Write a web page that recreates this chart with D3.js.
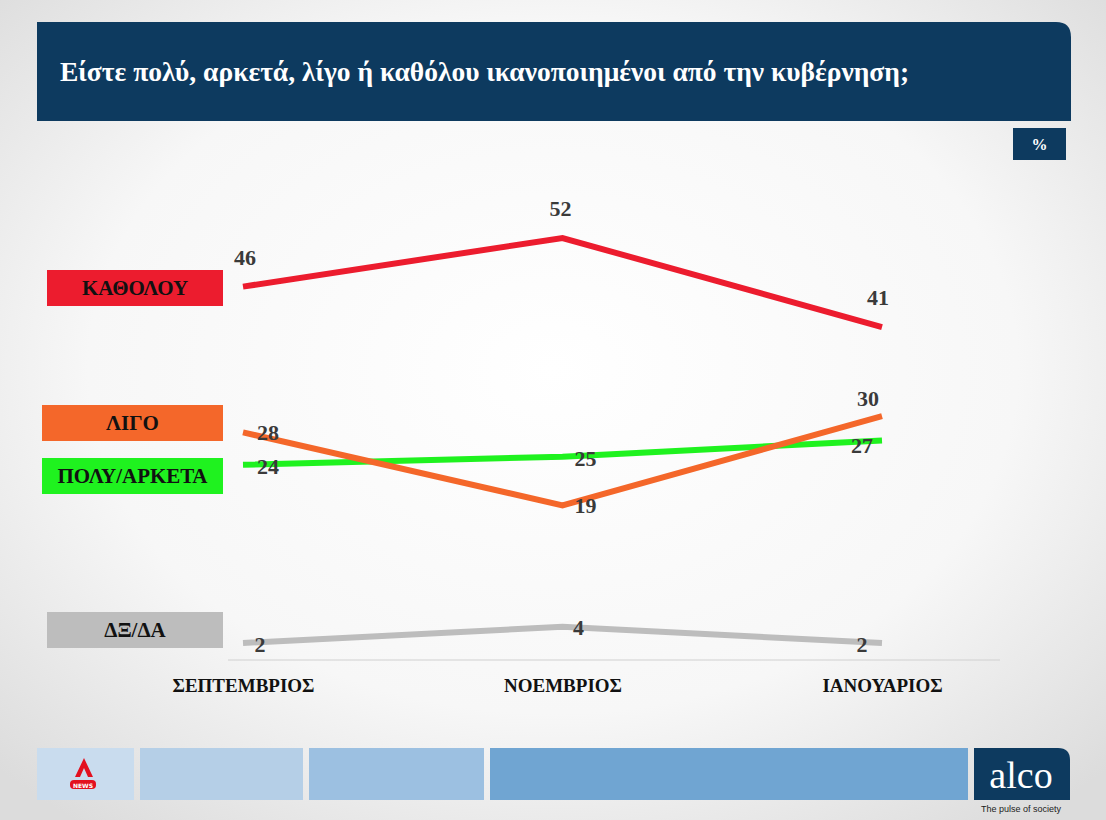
<!DOCTYPE html>
<html><head><meta charset="utf-8">
<script src="https://cdn.jsdelivr.net/npm/d3@7"></script>
<style>body{margin:0;overflow:hidden}</style>
</head><body><svg id="canvas"></svg>
<script>
const months = ['ΣΕΠΤΕΜΒΡΙΟΣ', 'ΝΟΕΜΒΡΙΟΣ', 'ΙΑΝΟΥΑΡΙΟΣ'];
const seriesNames = ['ΚΑΘΟΛΟΥ', 'ΛΙΓΟ', 'ΠΟΛΥ/ΑΡΚΕΤΑ', 'ΔΞ/ΔΑ'];
const katholou = [46, 52, 41];
const ligo = [28, 19, 30];
const polyArketa = [24, 25, 27];
const dxda = [2, 4, 2];

const width = 1106, height = 820;
const serif = 'Liberation Serif, Times New Roman, serif';
const canvas = d3.select('#canvas').attr('width', width).attr('height', height);

// background
const grad = canvas.append('defs').append('radialGradient').attr('id', 'bg')
    .attr('cx', '50%').attr('cy', '45%').attr('r', '70%');
grad.append('stop').attr('offset', '0%').attr('stop-color', '#ffffff');
grad.append('stop').attr('offset', '60%').attr('stop-color', '#f7f7f7');
grad.append('stop').attr('offset', '100%').attr('stop-color', '#dcdcdc');
canvas.append('rect').attr('width', width).attr('height', height).attr('fill', 'url(#bg)');

// header
canvas.append('path')
    .attr('d', 'M37,22 H1056 Q1071,22 1071,37 V121 H37 Z')
    .attr('fill', '#0d3a5f');
canvas.append('text').attr('x', 60).attr('y', 81)
    .attr('font-family', serif).attr('font-weight', 'bold').attr('font-size', 27.5)
    .attr('fill', '#fff')
    .text('Είστε πολύ, αρκετά, λίγο ή καθόλου ικανοποιημένοι από την κυβέρνηση;');
canvas.append('rect').attr('x', 1013).attr('y', 128).attr('width', 53).attr('height', 32).attr('fill', '#0d3a5f');
canvas.append('text').attr('x', 1039.5).attr('y', 150).attr('text-anchor', 'middle')
    .attr('font-family', serif).attr('font-weight', 'bold').attr('font-size', 16).attr('fill', '#fff').text('%');

// scales
const xScale = d3.scalePoint().domain(months).range([243, 882]);
const yScale = d3.scaleLinear().domain([2, 52]).range([643, 238]);

// baseline
canvas.append('line').attr('x1', 228).attr('x2', 1000).attr('y1', 660).attr('y2', 660)
    .attr('stroke', '#d0d0d0').attr('stroke-width', 1);

const xAxis = d3.axisBottom(xScale).tickSize(0).tickPadding(14);
const gx = canvas.append('g').attr('transform', 'translate(0,665)').call(xAxis);
gx.select('.domain').remove();
gx.selectAll('text').attr('font-family', serif).attr('font-weight', 'bold')
    .attr('font-size', 19).attr('fill', '#111');

const series = [
    { name: seriesNames[0], values: katholou, color: '#ec1c2e', box: [47, 270, 176, 36], text: '#111',
      offs: [[2, -22], [-2, -22], [-4, -22]] },
    { name: seriesNames[1], values: ligo, color: '#f4672a', box: [42, 405, 181, 36], text: '#111',
      offs: [[25, 8], [23, 8], [-14, -10]] },
    { name: seriesNames[2], values: polyArketa, color: '#1ff21f', box: [42, 458, 181, 36], text: '#111',
      offs: [[25, 9], [23, 9], [-20, 12]] },
    { name: seriesNames[3], values: dxda, color: '#bdbdbd', box: [47, 612, 176, 36], text: '#111',
      offs: [[17, 9], [16, 8], [-20, 9]] }
];

const line = d3.line().x((d, i) => xScale(months[i])).y(d => yScale(d));

// draw order: gray, green, orange, red
[3, 2, 1, 0].forEach(k => {
    const s = series[k];
    canvas.append('path').datum(s.values).attr('d', line)
        .attr('fill', 'none').attr('stroke', s.color).attr('stroke-width', 6);
});

series.forEach(s => {
    canvas.append('rect').attr('x', s.box[0]).attr('y', s.box[1])
        .attr('width', s.box[2]).attr('height', s.box[3]).attr('fill', s.color);
    canvas.append('text').attr('x', s.box[0] + s.box[2] / 2).attr('y', s.box[1] + s.box[3] / 2 + 7)
        .attr('text-anchor', 'middle').attr('font-family', serif).attr('font-weight', 'bold')
        .attr('font-size', 21).attr('fill', s.text).text(s.name);
    canvas.selectAll(null).data(s.values).enter().append('text')
        .attr('x', (d, i) => xScale(months[i]) + s.offs[i][0])
        .attr('y', (d, i) => yScale(d) + s.offs[i][1])
        .attr('text-anchor', 'middle').attr('font-family', serif).attr('font-weight', 'bold')
        .attr('font-size', 22).attr('fill', '#3a3a3a').text(d => d);
});

// footer
const footer = [[37, 97, '#c9dcee'], [140, 163, '#b5cfe7'], [309, 175, '#9cc0e1'], [490, 478, '#70a5d2']];
footer.forEach(f => canvas.append('rect').attr('x', f[0]).attr('y', 748).attr('width', f[1]).attr('height', 52).attr('fill', f[2]));
canvas.append('path').attr('d', 'M75,777 L84,758 L93,777 L88,777 L84,768 L80,777 Z').attr('fill', '#e3101f');
canvas.append('rect').attr('x', 70).attr('y', 780).attr('width', 26).attr('height', 9).attr('rx', 4).attr('fill', '#e3101f');
canvas.append('text').attr('x', 83).attr('y', 787.5).attr('text-anchor', 'middle').attr('font-family', 'DejaVu Sans')
    .attr('font-size', 6).attr('font-weight', 'bold').attr('fill', '#fff').text('NEWS');
canvas.append('path').attr('d', 'M974,748 H1058 Q1070,748 1070,760 V800 H974 Z').attr('fill', '#0d3a5f');
canvas.append('text').attr('x', 1021).attr('y', 788).attr('text-anchor', 'middle')
    .attr('font-family', serif).attr('font-size', 38).attr('fill', '#fff').text('alco');
canvas.append('text').attr('x', 1021).attr('y', 812).attr('text-anchor', 'middle')
    .attr('font-family', 'Liberation Sans, Arial').attr('font-size', 9).attr('fill', '#222').text('The pulse of society');
</script></body></html>
